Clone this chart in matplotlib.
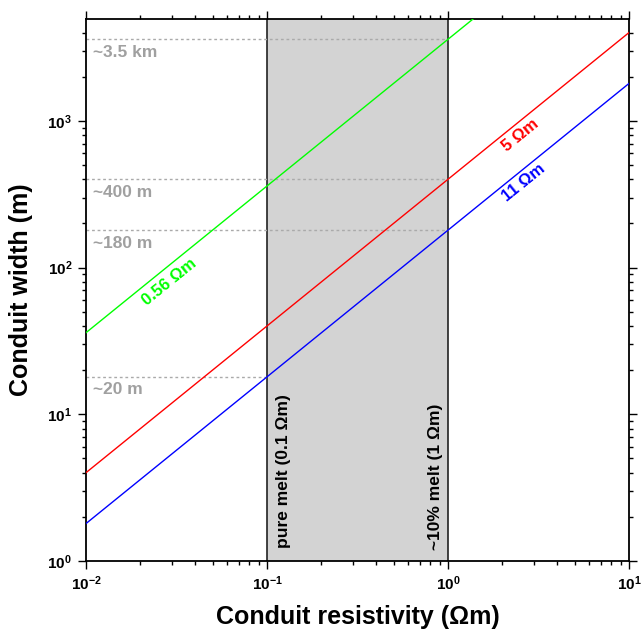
import numpy as np
import matplotlib
matplotlib.use("Agg")
import matplotlib.pyplot as plt
from matplotlib.ticker import LogLocator, FuncFormatter, NullFormatter

plt.rcParams['font.family'] = ['Liberation Sans', 'DejaVu Sans']
plt.rcParams['font.weight'] = 'bold'
plt.rcParams['mathtext.fontset'] = 'custom'
plt.rcParams['mathtext.rm'] = 'Liberation Sans:bold'
plt.rcParams['mathtext.bf'] = 'Liberation Sans:bold'

# conduit resistivity (Ohm m)
resistivity = [1e-2, 1e-1, 1e0, 1e1]
# conduit width (m) for each host resistivity
width_056 = [36, 360, 3600, 36000]
width_5 = [4, 40, 400, 4000]
width_11 = [1.8, 18, 180, 1800]
host_labels = ['0.56 Ωm', '5 Ωm', '11 Ωm']
line_colors = ['#00ff00', '#ff0000', '#0000ff']

# reference widths (dotted) and where they stop
ref_values = [3600, 400, 180, 18]
ref_xend = [1, 1, 1, 0.1]
ref_labels = ['~3.5 km', '~400 m', '~180 m', '~20 m']

melt_bounds = [0.1, 1]
melt_labels = ['pure melt (0.1 Ωm)', '~10% melt (1 Ωm)']

fig = plt.figure(figsize=(6.44, 6.29), dpi=100)
ax = fig.add_axes([86 / 644, 68 / 629, 543 / 644, 542 / 629])
ax.set_xscale('log')
ax.set_yscale('log')
ax.set_xlim(1e-2, 1e1)
ax.set_ylim(1, 4950)

# melt range
ax.axvspan(melt_bounds[0], melt_bounds[1], color='#d3d3d3', lw=0, zorder=0)
for xb in melt_bounds:
    ax.axvline(xb, color='#222222', lw=1.2, zorder=1)

# dotted reference widths
for v, xe, lab in zip(ref_values, ref_xend, ref_labels):
    ax.plot([1e-2, xe], [v, v], color='#aaaaaa', lw=1, ls=(0, (2, 2)), zorder=2)
    ax.annotate(lab, (1e-2, v), xytext=(5, -4), textcoords='offset points',
                ha='left', va='top', color='#a0a0a0', fontsize=12.5,
                fontweight='bold')

series = [width_056, width_5, width_11]
for w, c in zip(series, line_colors):
    ax.plot(resistivity, w, color=c, lw=1, zorder=3)

# angle of the lines on screen
p0 = ax.transData.transform((1e-2, 1))
p1 = ax.transData.transform((1e1, 1000))
ang = np.degrees(np.arctan2(p1[1] - p0[1], p1[0] - p0[0]))
s, co = np.sin(np.radians(ang)), np.cos(np.radians(ang))

# label positions along each line, all placed just below it
label_x = [0.026, 2.29, 2.40]
label_off = [9.5, 8, 8]
for w, c, lab, lx, d in zip(series, line_colors, host_labels, label_x, label_off):
    ly = np.interp(np.log10(lx), np.log10(resistivity), np.log10(w))
    ax.annotate(lab, (lx, 10 ** ly), xytext=(d * s, -d * co),
                textcoords='offset points', ha='center', va='center',
                rotation=ang, rotation_mode='anchor', color=c,
                fontsize=12, fontweight='bold')

# melt labels
ax.annotate(melt_labels[0], (melt_bounds[0], 1), xytext=(12, 9),
            textcoords='offset points', rotation=90, ha='center', va='bottom',
            fontsize=12.5, fontweight='bold', color='black')
ax.annotate(melt_labels[1], (melt_bounds[1], 1), xytext=(-9, 8),
            textcoords='offset points', rotation=90, ha='center', va='bottom',
            fontsize=12.5, fontweight='bold', color='black')

fmt = FuncFormatter(lambda v, p: r'$\mathbf{10^{%d}}$' % int(round(np.log10(v))))
for axis in (ax.xaxis, ax.yaxis):
    axis.set_major_locator(LogLocator(base=10, numticks=10))
    axis.set_minor_locator(LogLocator(base=10, subs=np.arange(2, 10), numticks=20))
    axis.set_major_formatter(fmt)
    axis.set_minor_formatter(NullFormatter())

ax.tick_params(which='both', direction='out', top=True, right=True,
               labelsize=11, width=1)
ax.tick_params(which='major', length=6, pad=4)
ax.tick_params(which='minor', length=3)
for sp in ax.spines.values():
    sp.set_linewidth(1.3)

ax.set_xlabel('Conduit resistivity (Ωm)', fontsize=18, fontweight='bold', labelpad=8)
ax.set_ylabel('Conduit width (m)', fontsize=18, fontweight='bold', labelpad=10)

fig.savefig('out.png', dpi=100)
